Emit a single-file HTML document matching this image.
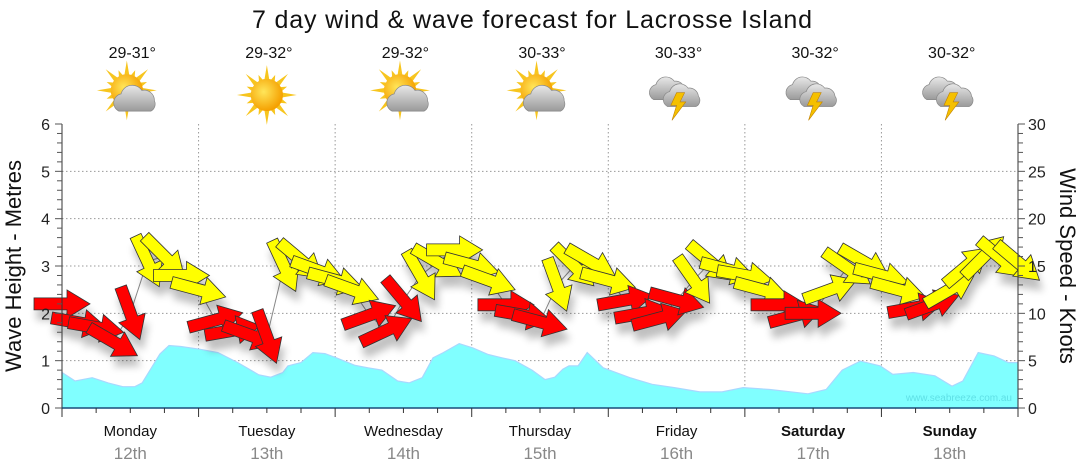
<!DOCTYPE html>
<html><head><meta charset="utf-8">
<style>
body{margin:0;background:#fff;}
svg{display:block;font-family:"Liberation Sans","DejaVu Sans",sans-serif;}
</style></head>
<body>
<svg id="chart" width="1080" height="475" viewBox="0 0 1080 475" xmlns="http://www.w3.org/2000/svg">
<defs>
<filter id="shadow" x="-50%" y="-50%" width="200%" height="200%">
<feGaussianBlur in="SourceAlpha" stdDeviation="4"/>
<feOffset dx="3" dy="10" result="b"/>
<feComponentTransfer><feFuncA type="linear" slope="0.25"/></feComponentTransfer>
<feMerge><feMergeNode/><feMergeNode in="SourceGraphic"/></feMerge>
</filter>
<radialGradient id="sunG" cx="0.4" cy="0.4" r="0.6"><stop offset="0" stop-color="#ffe65a"/><stop offset="1" stop-color="#f5a000"/></radialGradient>
<linearGradient id="cloudG" x1="0" y1="0" x2="0" y2="1"><stop offset="0" stop-color="#e8e8e8"/><stop offset="1" stop-color="#9a9a9a"/></linearGradient>
</defs>
<text x="532" y="28" font-size="25" text-anchor="middle" fill="#111" textLength="560">7 day wind &amp; wave forecast for Lacrosse Island</text>
<g id="header"></g>
<g id="grid"></g>
<g id="wave"></g>
<g id="wind"></g>
<g id="axes"></g>
<text x="1012" y="401" font-size="10" text-anchor="end" fill="#5fe0e6">www.seabreeze.com.au</text>
<text transform="translate(21,266) rotate(-90)" font-size="22" text-anchor="middle" fill="#111">Wave Height - Metres</text>
<text transform="translate(1060,266) rotate(90)" font-size="22" text-anchor="middle" fill="#111">Wind Speed - Knots</text>
</svg>
<script>
// ---- data ----
const days = ["Monday","Tuesday","Wednesday","Thursday","Friday","Saturday","Sunday"];
const dates = ["12th","13th","14th","15th","16th","17th","18th"];
const temps = ["29-31°","29-32°","29-32°","30-33°","30-33°","30-32°","30-32°"];
const icons = ["partly","sunny","partly","partly","storm","storm","storm"];
const leftTicks = [0,1,2,3,4,5,6];
const rightTicks = [0,5,10,15,20,25,30];
const waveHours = [0,2.3,5.3,8.1,10.7,12.8,14.1,17.2,18.8,20.9,24.3,27.4,30.9,34.6,36.7,38.8,39.7,42,44.1,46.2,48.2,51.5,53.8,56.2,59,61,63.3,65.2,67,69.8,72.2,74.9,77.3,79.6,82.6,84.9,86.6,88,89.1,90.7,92.3,95.1,99.8,103.7,107.6,112.1,116,119.7,124.4,131.1,134.3,137.1,140.3,143.8,146,149.6,153.4,156.4,158.3,161,163.8,166.3,168];
const waveHeights = [0.75,0.57,0.64,0.53,0.45,0.45,0.53,1.14,1.32,1.3,1.24,1.17,0.96,0.7,0.65,0.75,0.89,0.96,1.17,1.15,1.06,0.9,0.85,0.8,0.57,0.53,0.64,1.06,1.17,1.36,1.27,1.13,1.06,1.0,0.8,0.6,0.65,0.82,0.89,0.89,1.17,0.85,0.64,0.5,0.43,0.34,0.34,0.43,0.39,0.3,0.39,0.8,0.99,0.89,0.71,0.75,0.68,0.46,0.57,1.17,1.1,0.96,0.96];
const windHours = [0,3,6,9,12,15,18,21,24,27,30,33,36,39,42,45,48,51,54,57,60,63,66,69,72,75,78,81,84,87,90,93,96,99,102,105,108,111,114,117,120,123,126,129,132,135,138,141,144,147,150,153,156,159,162,165,168];
const windSpeeds = [11,9,8.5,7,10,15.5,16,14,12.5,9.3,8.2,7.7,7.5,15,15.6,14.5,13.5,12.5,9.8,8.2,11.4,14,15.4,16.7,15.1,13.5,10.9,9.8,9.1,13,15,15.4,13.5,11.4,10,9.5,11.4,13.5,15.4,14.6,14,12.5,10.9,9.8,10,12.5,14.8,15.4,14,12.5,10.6,10.9,12.5,15,16,15.8,15.4];
const windDirs = [0,10,10,30,70,65,45,0,15,-15,-10,20,70,65,40,20,15,20,-20,-25,50,60,30,0,15,20,0,10,15,70,45,30,15,-10,-10,-15,15,55,40,15,10,15,0,-15,0,-20,35,30,15,15,-10,-20,-30,-40,-45,40,40];

// ---- geometry ----
const X0=62, X1=1018, Y0=408, Y1=124;
const xH = h => X0 + (X1-X0)*h/168;
const yM = m => Y0 - (Y0-Y1)*m/6;
const yK = k => Y0 - (Y0-Y1)*k/30;
const NS="http://www.w3.org/2000/svg";
function mk(tag, attrs, parent){const e=document.createElementNS(NS,tag);for(const k in attrs)e.setAttribute(k,attrs[k]);parent.appendChild(e);return e;}

// grid
const grid=document.getElementById('grid');
leftTicks.forEach(t=>{ if(t>0&&t<6){const l=mk('line',{x1:X0,x2:X1,y1:yM(t),y2:yM(t),stroke:'#999','stroke-dasharray':'1.5,2.5','stroke-width':1},grid);

}});
for(let d=1;d<7;d++){const l=mk('line',{x1:xH(d*24),x2:xH(d*24),y1:Y1,y2:Y0,stroke:'#999','stroke-dasharray':'1.5,2.5','stroke-width':1},grid);

}

// wave area
const wave=document.getElementById('wave');
let dstr='M'+xH(waveHours[0])+','+Y0;
waveHours.forEach((h,i)=>{dstr+=' L'+xH(h).toFixed(1)+','+yM(waveHeights[i]).toFixed(1);});
dstr+=' L'+xH(waveHours[waveHours.length-1])+','+Y0+' Z';
const wa=mk('path',{d:dstr,fill:'#80ffff',stroke:'#a8d8ff','stroke-width':1.2},wave);



// wind
const wind=document.getElementById('wind');
let lp='';
windHours.forEach((h,i)=>{lp+=(i?' L':'M')+xH(h).toFixed(1)+','+yK(windSpeeds[i]).toFixed(1);});
const wl=mk('path',{d:lp,fill:'none',stroke:'#888','stroke-width':1},wind);


const ag=mk('g',{filter:'url(#shadow)'},wind);
const arrowPts="-28,-6 5,-6 5,-14 28,0 5,14 5,6 -28,6";
windHours.forEach((h,i)=>{
  const col = windSpeeds[i]>=12 ? '#ffff00' : '#ff0000';
  const a=mk('polygon',{points:arrowPts,fill:col,stroke:'#333','stroke-width':0.8,
    transform:'translate('+xH(h).toFixed(1)+','+yK(windSpeeds[i]).toFixed(1)+') rotate('+windDirs[i]+')'},ag);
  
  
});

// axes
const axes=document.getElementById('axes');
mk('line',{x1:X0,x2:X0,y1:Y1,y2:Y0,stroke:'#333'},axes);
mk('line',{x1:X1,x2:X1,y1:Y1,y2:Y0,stroke:'#333'},axes);
mk('line',{x1:X0,x2:X1,y1:Y0,y2:Y0,stroke:'#1a4f7a','stroke-width':1.5},axes);
for(let m=0;m<=6.001;m+=0.2){const major=Math.abs(m-Math.round(m))<0.01;
  mk('line',{x1:X0-(major?7:5),x2:X0,y1:yM(m),y2:yM(m),stroke:'#555'},axes);}
for(let k=0;k<=30.001;k+=1){const major=k%5===0;
  mk('line',{x1:X1,x2:X1+(major?7:5),y1:yK(k),y2:yK(k),stroke:'#555'},axes);}
leftTicks.forEach(t=>{const e=mk('text',{x:50,y:yM(t)+6,'font-size':16,'text-anchor':'end',fill:'#222'},axes);e.textContent=t;

});
rightTicks.forEach(t=>{const e=mk('text',{x:1028,y:yK(t)+6,'font-size':16,'text-anchor':'start',fill:'#222'},axes);e.textContent=t;

});
for(let h=0;h<=168;h+=6){const major=h%24===0;
  mk('line',{x1:xH(h),x2:xH(h),y1:Y0,y2:Y0+(major?9:5),stroke:'#333'},axes);}

// day labels & header
const header=document.getElementById('header');
days.forEach((d,i)=>{
  const cx=xH(i*24+12);
  const t=mk('text',{x:cx,y:436,'font-size':15,'text-anchor':'middle',fill:'#111','font-weight':i>=5?'bold':'normal'},axes);t.textContent=d;
  
  
  const dt=mk('text',{x:cx,y:459,'font-size':17,'text-anchor':'middle',fill:'#888'},axes);dt.textContent=dates[i];
  
  
  const tp=mk('text',{x:cx+2,y:58,'font-size':16,'text-anchor':'middle',fill:'#111'},header);tp.textContent=temps[i];
  
  
  const g=mk('g',{transform:'translate('+cx+',95) scale(1.15)'},header);
  
  
  if(icons[i]!=='storm'){
    const sx=icons[i]==='sunny'?0:-3, sy=icons[i]==='sunny'?0:-4;
    for(let r=0;r<16;r++){const an=r*22.5*Math.PI/180, L=r%2?19:26;
      mk('polygon',{points:(sx+Math.cos(an)*L)+','+(sy+Math.sin(an)*L)+' '+(sx+Math.cos(an+0.2)*12)+','+(sy+Math.sin(an+0.2)*12)+' '+(sx+Math.cos(an-0.2)*12)+','+(sy+Math.sin(an-0.2)*12),fill:'#f7c51e'},g);}
    mk('circle',{cx:sx,cy:sy,r:14,fill:'url(#sunG)'},g);
    if(icons[i]==='partly'){
      mk('path',{d:'M-10,14 a8,8 0 0 1 2,-15 a10,10 0 0 1 18,-3 a9,9 0 0 1 11,9 a7,7 0 0 1 -3,9 Z',fill:'url(#cloudG)',stroke:'#888','stroke-width':0.6},g);
    }
  } else {
    mk('path',{d:'M-20,4 a7,7 0 0 1 2,-13 a9,9 0 0 1 16,-3 a8,8 0 0 1 9,7 a6,6 0 0 1 -2,9 Z',fill:'url(#cloudG)',stroke:'#888','stroke-width':0.6},g);
    mk('path',{d:'M-8,10 a7,7 0 0 1 2,-13 a9,9 0 0 1 16,-3 a8,8 0 0 1 9,7 a6,6 0 0 1 -2,9 Z',fill:'url(#cloudG)',stroke:'#888','stroke-width':0.6},g);
    mk('polygon',{points:'0,-2 7,-2 3,6 8,6 -4,22 0,9 -5,9',fill:'#f5c000',stroke:'#c08000','stroke-width':0.5},g);
  }
});
</script>
</body></html>
